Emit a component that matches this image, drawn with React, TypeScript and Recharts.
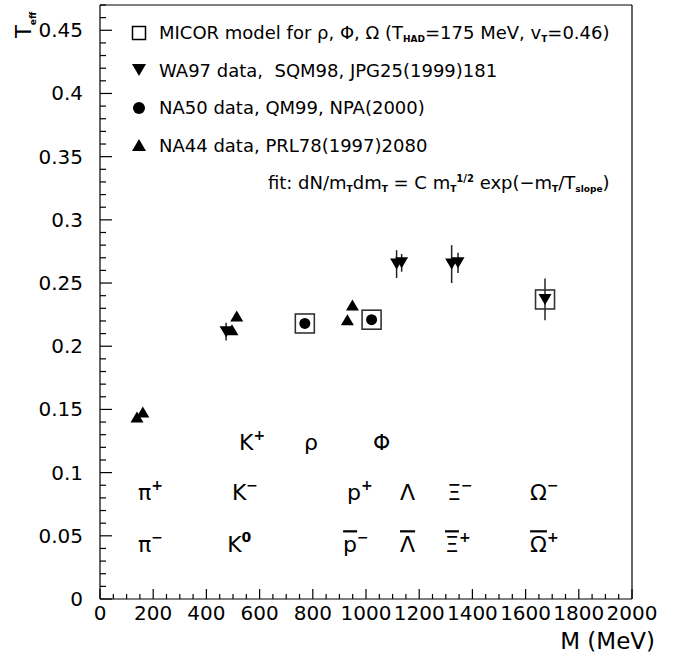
import React from 'react';
import { ScatterChart, Scatter, XAxis, YAxis, ErrorBar, ReferenceLine, Legend } from 'recharts';

const FONT = '"DejaVu Sans", sans-serif';

// MICOR model (open squares)
const micor = [
  { m: 770, t: 0.218 },
  { m: 1021, t: 0.221 },
  { m: 1673, t: 0.237 },
];

// WA97 (inverted triangles)
const wa97 = [
  { m: 474, t: 0.2115, err: 0.007 },
  { m: 1115, t: 0.265, err: 0.011 },
  { m: 1134, t: 0.266, err: 0.007 },
  { m: 1322, t: 0.265, err: 0.015 },
  { m: 1346, t: 0.266, err: 0.008 },
  { m: 1673, t: 0.237, err: 0.0165 },
];

// NA50 (dots)
const na50 = [
  { m: 770, t: 0.218, err: 0.003 },
  { m: 1021, t: 0.221, err: 0.003 },
];

// NA44 (triangles)
const na44 = [
  { m: 139, t: 0.144 },
  { m: 161, t: 0.148 },
  { m: 496, t: 0.213 },
  { m: 514, t: 0.224 },
  { m: 930, t: 0.221 },
  { m: 949, t: 0.2326 },
];

// particle names written in the plot (text start, baseline)
const particles = [
  { m: 523, t: 0.118, base: 'K', sup: '+' },
  { m: 767, t: 0.118, base: 'ρ', sup: '' },
  { m: 1026, t: 0.118, base: 'Φ', sup: '' },
  { m: 143, t: 0.078, base: 'π', sup: '+' },
  { m: 496, t: 0.078, base: 'K', sup: '−' },
  { m: 929, t: 0.078, base: 'p', sup: '+' },
  { m: 1128, t: 0.078, base: 'Λ', sup: '' },
  { m: 1305, t: 0.078, base: 'Ξ', sup: '−' },
  { m: 1617, t: 0.078, base: 'Ω', sup: '−' },
  { m: 143, t: 0.037, base: 'π', sup: '−' },
  { m: 478, t: 0.037, base: 'K', sup: '0' },
  { m: 914, t: 0.037, base: 'p', sup: '−', bar: true },
  { m: 1128, t: 0.037, base: 'Λ', sup: '', bar: true },
  { m: 1297, t: 0.037, base: 'Ξ', sup: '+', bar: true },
  { m: 1617, t: 0.037, base: 'Ω', sup: '+', bar: true },
];

const xTicks = Array.from({ length: 41 }, (_, i) => i * 50);
const yTicks = Array.from({ length: 48 }, (_, i) => +(i * 0.01).toFixed(2));

const isMajorY = (v: number) => Math.abs(v * 20 - Math.round(v * 20)) < 1e-6;

const YTick = (props: any) => {
  const { x, y, payload } = props;
  const v = payload.value;
  const major = isMajorY(v);
  const ax = x + 17;
  return (
    <g>
      <line x1={ax} x2={ax + (major ? 12 : 6)} y1={y} y2={y} stroke="#000" strokeWidth={1.2} />
      {major && (
        <text x={x} y={y + 7} textAnchor="end" fontFamily={FONT} fontSize={20} fill="#000">
          {String(+v.toFixed(2))}
        </text>
      )}
    </g>
  );
};

const XTick = (props: any) => {
  const { x, y, payload } = props;
  const v = payload.value;
  const major = v % 200 === 0;
  return (
    <g>
      <line x1={x} x2={x} y1={y} y2={y - (major ? 10 : 5)} stroke="#000" strokeWidth={1.2} />
      {major && (
        <text x={x} y={y + 21} textAnchor="middle" fontFamily={FONT} fontSize={20} fill="#000">
          {v}
        </text>
      )}
    </g>
  );
};

const Square = (p: any) => (
  <rect x={p.cx - 9.5} y={p.cy - 9.5} width={19} height={19} fill="none" stroke="#333" strokeWidth={1.6} />
);
const DownTri = (p: any) => (
  <polygon points={`${p.cx - 6.5},${p.cy - 5.5} ${p.cx + 6.5},${p.cy - 5.5} ${p.cx},${p.cy + 5.5}`} fill="#000" />
);
const UpTri = (p: any) => (
  <polygon points={`${p.cx - 6.5},${p.cy + 5.5} ${p.cx + 6.5},${p.cy + 5.5} ${p.cx},${p.cy - 5.5}`} fill="#000" />
);
const Dot = (p: any) => <circle cx={p.cx} cy={p.cy} r={5.5} fill="#000" />;

const ParticleName = (p: any) => {
  const d = p.payload;
  return (
    <text x={p.cx} y={p.cy} fontFamily={FONT} fontSize={22} fill="#000">
      <tspan style={d.bar ? { textDecoration: 'overline' } : undefined}>{d.base}</tspan>
      {d.sup && (
        <tspan fontSize={14} fontWeight="bold" dy={-10}>
          {d.sup}
        </tspan>
      )}
    </text>
  );
};

const sub = { fontSize: 9, fontWeight: 700, verticalAlign: -3 } as React.CSSProperties;
const sup = { fontSize: 10, fontWeight: 700, verticalAlign: 7 } as React.CSSProperties;
const row = { display: 'flex', alignItems: 'center', height: 37.5 } as React.CSSProperties;

const LegendIcon = ({ kind }: { kind: string }) => (
  <svg width={20} height={16} style={{ marginRight: 10, flex: 'none' }}>
    {kind === 'square' && <rect x={3.5} y={1.5} width={13} height={13} fill="none" stroke="#000" strokeWidth={1.5} />}
    {kind === 'down' && <polygon points="3,2 17,2 10,14" fill="#000" />}
    {kind === 'dot' && <circle cx={10} cy={8} r={6} fill="#000" />}
    {kind === 'up' && <polygon points="3,14 17,14 10,2" fill="#000" />}
  </svg>
);

const renderLegend = () => (
  <div style={{ display: 'inline-block', fontFamily: FONT, fontSize: 18, color: '#000', whiteSpace: 'pre' }}>
    <div style={row}>
      <LegendIcon kind="square" />
      <span>MICOR model for ρ, Φ, Ω (T<span style={sub}>HAD</span>=175 MeV, v<span style={sub}>T</span>=0.46)</span>
    </div>
    <div style={row}>
      <LegendIcon kind="down" />
      <span>WA97 data,  SQM98, JPG25(1999)181</span>
    </div>
    <div style={row}>
      <LegendIcon kind="dot" />
      <span>NA50 data, QM99, NPA(2000)</span>
    </div>
    <div style={row}>
      <LegendIcon kind="up" />
      <span>NA44 data, PRL78(1997)2080</span>
    </div>
    <div style={{ ...row, justifyContent: 'flex-end' }}>
      <span>
        fit: dN/m<span style={sub}>T</span>dm<span style={sub}>T</span> = C m<span style={sub}>T</span>
        <span style={sup}>1/2</span> exp(−m<span style={sub}>T</span>/T<span style={sub}>slope</span>)
      </span>
    </div>
  </div>
);

const TeffLabel = () => (
  <text transform="translate(31,38) rotate(-90)" fontFamily={FONT} fontSize={21} fill="#000">
    T
    <tspan fontSize={9} fontWeight="bold" dy={5}>
      eff
    </tspan>
  </text>
);

const MassLabel = () => (
  <text x={655} y={649} textAnchor="end" fontFamily={FONT} fontSize={23} fill="#000">
    M (MeV)
  </text>
);

export default function App() {
  return (
    <div style={{ position: 'absolute', left: 0, top: 0, background: '#fff' }}>
      <ScatterChart width={681} height={660} margin={{ top: 5, right: 49, bottom: 0, left: 0 }}>
        <XAxis
          type="number"
          dataKey="m"
          domain={[0, 2000]}
          ticks={xTicks}
          interval={0}
          height={61}
          tickSize={0}
          tickMargin={0}
          tickLine={false}
          tick={<XTick />}
          axisLine={{ stroke: '#000', strokeWidth: 1.2 }}
          label={<MassLabel />}
        />
        <YAxis
          type="number"
          dataKey="t"
          domain={[0, 0.47]}
          ticks={yTicks}
          interval={0}
          width={100}
          tickSize={0}
          tickMargin={17}
          tickLine={false}
          tick={<YTick />}
          axisLine={{ stroke: '#000', strokeWidth: 1.2 }}
          label={<TeffLabel />}
        />
        <ReferenceLine y={0.47} stroke="#000" strokeWidth={1.2} />
        <ReferenceLine x={2000} stroke="#000" strokeWidth={1.2} />
        <Legend
          content={renderLegend}
          layout="vertical"
          align="center"
          verticalAlign="middle"
          wrapperStyle={{ top: 14, left: 129, width: 500 }}
        />
        <Scatter data={micor} shape={<Square />} isAnimationActive={false} />
        <Scatter data={na50} shape={<Dot />} isAnimationActive={false}>
          <ErrorBar dataKey="err" direction="y" width={0} stroke="#000" strokeWidth={1.5} />
        </Scatter>
        <Scatter data={na44} shape={<UpTri />} isAnimationActive={false} />
        <Scatter data={wa97} shape={<DownTri />} isAnimationActive={false}>
          <ErrorBar dataKey="err" direction="y" width={0} stroke="#222" strokeWidth={1.5} />
        </Scatter>
        <Scatter data={particles} shape={<ParticleName />} isAnimationActive={false} />
      </ScatterChart>
    </div>
  );
}
